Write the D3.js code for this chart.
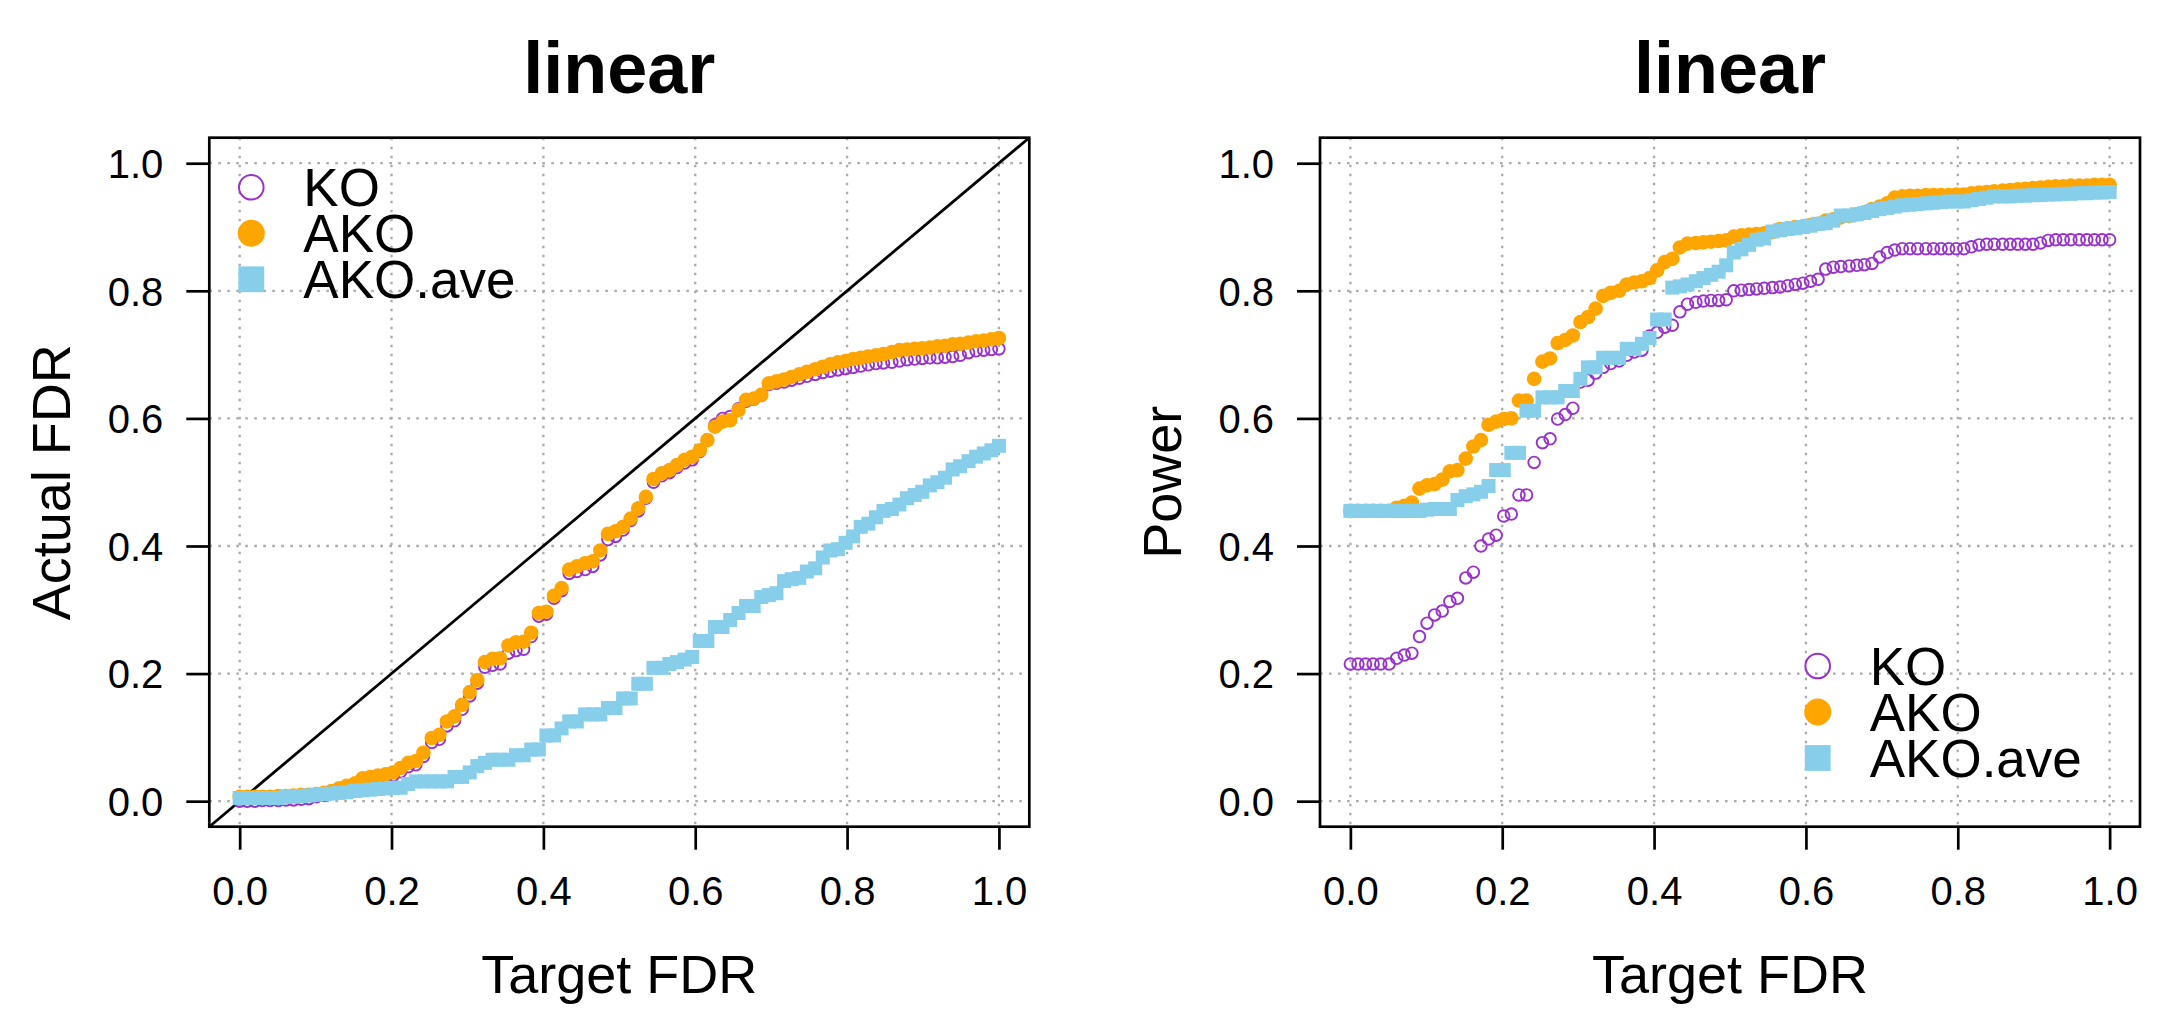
<!DOCTYPE html>
<html>
<head>
<meta charset="utf-8">
<script src="https://cdn.jsdelivr.net/npm/d3@7"></script>
<style>
  body { margin: 0; background: #fff; }
  text { font-family: "Liberation Sans", Arial, Helvetica, sans-serif; }
</style>
</head>
<body>
<div class="chart"></div>
<script>
// target FDR grid, 100 points from 0 to 1
const targetFDR = [
  0.000, 0.010, 0.020, 0.030, 0.040, 0.051, 0.061, 0.071, 0.081, 0.091,
  0.101, 0.111, 0.121, 0.131, 0.141, 0.152, 0.162, 0.172, 0.182, 0.192,
  0.202, 0.212, 0.222, 0.232, 0.242, 0.253, 0.263, 0.273, 0.283, 0.293,
  0.303, 0.313, 0.323, 0.333, 0.343, 0.354, 0.364, 0.374, 0.384, 0.394,
  0.404, 0.414, 0.424, 0.434, 0.444, 0.455, 0.465, 0.475, 0.485, 0.495,
  0.505, 0.515, 0.525, 0.535, 0.545, 0.556, 0.566, 0.576, 0.586, 0.596,
  0.606, 0.616, 0.626, 0.636, 0.646, 0.657, 0.667, 0.677, 0.687, 0.697,
  0.707, 0.717, 0.727, 0.737, 0.747, 0.758, 0.768, 0.778, 0.788, 0.798,
  0.808, 0.818, 0.828, 0.838, 0.848, 0.859, 0.869, 0.879, 0.889, 0.899,
  0.909, 0.919, 0.929, 0.939, 0.949, 0.960, 0.970, 0.980, 0.990, 1.000
]

// left panel: actual FDR
const fdrKO = [
  0.000, 0.000, 0.000, 0.001, 0.001, 0.001, 0.002, 0.002, 0.003, 0.004,
  0.007, 0.009, 0.012, 0.016, 0.020, 0.024, 0.028, 0.031, 0.033, 0.036,
  0.040, 0.046, 0.054, 0.057, 0.070, 0.092, 0.097, 0.118, 0.126, 0.144,
  0.165, 0.185, 0.210, 0.213, 0.215, 0.232, 0.236, 0.238, 0.258, 0.290,
  0.293, 0.318, 0.330, 0.357, 0.360, 0.363, 0.368, 0.386, 0.410, 0.415,
  0.425, 0.440, 0.455, 0.475, 0.500, 0.510, 0.515, 0.523, 0.530, 0.535,
  0.548, 0.566, 0.590, 0.600, 0.603, 0.615, 0.627, 0.630, 0.636, 0.653,
  0.655, 0.657, 0.660, 0.663, 0.666, 0.669, 0.672, 0.674, 0.676, 0.678,
  0.680, 0.682, 0.684, 0.686, 0.687, 0.688, 0.690, 0.692, 0.693, 0.694,
  0.695, 0.695, 0.696, 0.697, 0.699, 0.703, 0.706, 0.707, 0.708, 0.709
]
const fdrAKO = [
  0.007, 0.007, 0.007, 0.007, 0.007, 0.008, 0.008, 0.009, 0.010, 0.010,
  0.011, 0.013, 0.016, 0.020, 0.024, 0.028, 0.036, 0.038, 0.040, 0.042,
  0.045, 0.052, 0.060, 0.063, 0.076, 0.099, 0.104, 0.125, 0.133, 0.151,
  0.171, 0.190, 0.218, 0.223, 0.224, 0.244, 0.249, 0.250, 0.264, 0.295,
  0.297, 0.322, 0.334, 0.363, 0.368, 0.373, 0.376, 0.393, 0.419, 0.423,
  0.430, 0.443, 0.459, 0.477, 0.505, 0.514, 0.519, 0.527, 0.535, 0.540,
  0.550, 0.566, 0.587, 0.595, 0.597, 0.613, 0.629, 0.631, 0.637, 0.655,
  0.658, 0.661, 0.665, 0.669, 0.673, 0.677, 0.681, 0.685, 0.688, 0.690,
  0.693, 0.695, 0.697, 0.699, 0.701, 0.704, 0.707, 0.708, 0.709, 0.710,
  0.711, 0.713, 0.714, 0.716, 0.717, 0.719, 0.721, 0.722, 0.724, 0.726
]
const fdrAve = [
  0.005, 0.005, 0.005, 0.005, 0.005, 0.005, 0.007, 0.007, 0.008, 0.009,
  0.010, 0.011, 0.012, 0.013, 0.014, 0.016, 0.017, 0.018, 0.019, 0.020,
  0.021, 0.021, 0.027, 0.031, 0.031, 0.031, 0.031, 0.031, 0.038, 0.038,
  0.045, 0.055, 0.060, 0.065, 0.065, 0.065, 0.072, 0.072, 0.081, 0.081,
  0.103, 0.103, 0.114, 0.125, 0.125, 0.136, 0.136, 0.136, 0.146, 0.146,
  0.161, 0.161, 0.184, 0.184, 0.209, 0.209, 0.215, 0.218, 0.222, 0.226,
  0.251, 0.251, 0.273, 0.273, 0.284, 0.295, 0.306, 0.306, 0.320, 0.323,
  0.326, 0.345, 0.348, 0.350, 0.360, 0.365, 0.382, 0.393, 0.395, 0.405,
  0.415, 0.430, 0.435, 0.445, 0.455, 0.458, 0.465, 0.475, 0.480, 0.485,
  0.495, 0.500, 0.507, 0.520, 0.525, 0.533, 0.540, 0.545, 0.550, 0.557
]

// right panel: power
const powKO = [
  0.215, 0.215, 0.215, 0.215, 0.215, 0.215, 0.224, 0.229, 0.232, 0.258,
  0.279, 0.292, 0.298, 0.313, 0.318, 0.350, 0.359, 0.400, 0.411, 0.417,
  0.447, 0.450, 0.480, 0.480, 0.531, 0.562, 0.568, 0.599, 0.606, 0.616,
  0.657, 0.660, 0.671, 0.680, 0.686, 0.690, 0.699, 0.704, 0.707, 0.729,
  0.735, 0.743, 0.746, 0.767, 0.779, 0.782, 0.784, 0.785, 0.785, 0.786,
  0.800, 0.801, 0.802, 0.803, 0.804, 0.805, 0.806, 0.808, 0.810, 0.812,
  0.815, 0.818, 0.834, 0.837, 0.838, 0.839, 0.840, 0.841, 0.843, 0.853,
  0.860, 0.864, 0.866, 0.866, 0.866, 0.866, 0.866, 0.866, 0.866, 0.866,
  0.866, 0.869, 0.872, 0.873, 0.873, 0.873, 0.873, 0.873, 0.873, 0.873,
  0.875, 0.879, 0.880, 0.880, 0.880, 0.880, 0.880, 0.880, 0.880, 0.880
]
const powAKO = [
  0.455, 0.455, 0.455, 0.455, 0.455, 0.455, 0.460, 0.463, 0.468, 0.490,
  0.495, 0.497, 0.504, 0.517, 0.519, 0.537, 0.556, 0.566, 0.590, 0.595,
  0.599, 0.600, 0.628, 0.628, 0.662, 0.689, 0.694, 0.718, 0.723, 0.730,
  0.751, 0.759, 0.772, 0.792, 0.797, 0.800, 0.810, 0.813, 0.815, 0.820,
  0.832, 0.845, 0.850, 0.868, 0.874, 0.875, 0.876, 0.877, 0.878, 0.879,
  0.885, 0.887, 0.888, 0.889, 0.890, 0.892, 0.897, 0.898, 0.900, 0.901,
  0.903, 0.905, 0.910, 0.912, 0.915, 0.917, 0.920, 0.923, 0.928, 0.932,
  0.937, 0.946, 0.948, 0.949, 0.949, 0.950, 0.950, 0.950, 0.950, 0.951,
  0.951, 0.953, 0.954, 0.955, 0.956, 0.957, 0.958, 0.959, 0.960, 0.961,
  0.962, 0.963, 0.964, 0.964, 0.965, 0.965, 0.965, 0.966, 0.966, 0.966
]
const powAve = [
  0.455, 0.455, 0.455, 0.455, 0.455, 0.455, 0.455, 0.455, 0.455, 0.455,
  0.457, 0.458, 0.458, 0.458, 0.472, 0.478, 0.481, 0.485, 0.494, 0.519,
  0.519, 0.546, 0.546, 0.612, 0.612, 0.633, 0.633, 0.633, 0.643, 0.643,
  0.662, 0.680, 0.680, 0.695, 0.695, 0.695, 0.709, 0.709, 0.717, 0.726,
  0.755, 0.755, 0.805, 0.807, 0.810, 0.815, 0.820, 0.825, 0.830, 0.840,
  0.860, 0.865, 0.872, 0.880, 0.882, 0.893, 0.895, 0.897, 0.898, 0.900,
  0.902, 0.905, 0.906, 0.910, 0.918, 0.918, 0.920, 0.922, 0.925, 0.928,
  0.930, 0.932, 0.934, 0.935, 0.936, 0.937, 0.938, 0.939, 0.940, 0.940,
  0.940, 0.942, 0.944, 0.946, 0.948, 0.948, 0.948, 0.949, 0.949, 0.950,
  0.950, 0.951, 0.951, 0.952, 0.952, 0.953, 0.953, 0.954, 0.954, 0.955
]

const axisTicks = [0, 0.2, 0.4, 0.6, 0.8, 1.0]
const legendLabels = ['KO', 'AKO', 'AKO.ave']
const colKO = '#9932CC'
const colAKO = '#FFA500'
const colAve = '#87CEEB'

const W = 2183, H = 1034
const boxTop = 137.7, boxBottom = 826.7, boxW = 820

let svg = d3.select('.chart')
  .append('svg')
  .attr('width', W)
  .attr('height', H)
  .style('display', 'block')

svg.append('rect').attr('width', W).attr('height', H).attr('fill', '#fff')

let drawPanel = (p) => {
  let x = d3.scaleLinear().domain([-0.04, 1.04]).range([p.left, p.left + boxW])
  let y = d3.scaleLinear().domain([-0.04, 1.04]).range([boxBottom, boxTop])
  let g = svg.append('g')
  let cx = p.left + boxW / 2

  // dotted grid
  g.append('g').selectAll('line').data(axisTicks).join('line')
    .attr('x1', d => x(d)).attr('x2', d => x(d))
    .attr('y1', boxTop).attr('y2', boxBottom)
  g.append('g').selectAll('line').data(axisTicks).join('line')
    .attr('y1', d => y(d)).attr('y2', d => y(d))
    .attr('x1', p.left).attr('x2', p.left + boxW)
  g.selectAll('line')
    .attr('stroke', '#ababab')
    .attr('stroke-width', 2.3)
    .attr('stroke-dasharray', '2.6 6.4')

  // identity line
  if (p.diagonal) {
    g.append('line')
      .attr('x1', x(-0.04)).attr('y1', y(-0.04))
      .attr('x2', x(1.04)).attr('y2', y(1.04))
      .attr('stroke', '#000')
      .attr('stroke-width', 2.8)
  }

  // points: KO, then AKO, then AKO.ave on top
  let pts = targetFDR.map((t, i) => ({ t: t, ko: p.ko[i], ako: p.ako[i], ave: p.ave[i] }))
  g.append('g').selectAll('circle').data(pts).join('circle')
    .attr('cx', d => x(d.t)).attr('cy', d => y(d.ko))
    .attr('r', 5.8)
    .attr('fill', 'none')
    .attr('stroke', colKO)
    .attr('stroke-width', 1.9)
  g.append('g').selectAll('circle').data(pts).join('circle')
    .attr('cx', d => x(d.t)).attr('cy', d => y(d.ako))
    .attr('r', 7.3)
    .attr('fill', colAKO)
  g.append('g').selectAll('rect').data(pts).join('rect')
    .attr('x', d => x(d.t) - 7).attr('y', d => y(d.ave) - 7)
    .attr('width', 14).attr('height', 14)
    .attr('fill', colAve)

  // box
  g.append('rect')
    .attr('x', p.left).attr('y', boxTop)
    .attr('width', boxW).attr('height', boxBottom - boxTop)
    .attr('fill', 'none')
    .attr('stroke', '#000')
    .attr('stroke-width', 2.7)

  // axes
  let xAxis = g.append('g')
    .attr('transform', `translate(0,${boxBottom})`)
    .call(d3.axisBottom(x).tickValues(axisTicks).tickSize(23).tickPadding(27).tickFormat(d3.format('.1f')))
  let yAxis = g.append('g')
    .attr('transform', `translate(${p.left},0)`)
    .call(d3.axisLeft(y).tickValues(axisTicks).tickSize(23).tickPadding(23).tickFormat(d3.format('.1f')))
  for (let a of [xAxis, yAxis]) {
    a.select('.domain').remove()
    a.selectAll('.tick line').attr('stroke', '#000').attr('stroke-width', 2.7)
    a.selectAll('.tick text')
      .attr('fill', '#000')
      .style('font-size', '40px')
      .style('font-family', '"Liberation Sans", Arial, sans-serif')
  }
  yAxis.selectAll('.tick text').attr('dy', '0.36em')

  // titles
  g.append('text')
    .attr('x', cx).attr('y', 93.3)
    .attr('text-anchor', 'middle')
    .style('font-size', '72px')
    .style('font-weight', 'bold')
    .text(p.title)
  g.append('text')
    .attr('x', cx).attr('y', 993)
    .attr('text-anchor', 'middle')
    .style('font-size', '54px')
    .text('Target FDR')
  g.append('text')
    .attr('transform', `translate(${p.left - 139},${(boxTop + boxBottom) / 2}) rotate(-90)`)
    .attr('text-anchor', 'middle')
    .style('font-size', '54px')
    .text(p.ylab)

  // legend
  let lg = g.append('g').attr('transform', `translate(${p.legX},${p.legY})`)
  let rowH = 46
  lg.append('circle').attr('cx', 0).attr('cy', 0).attr('r', 12.3)
    .attr('fill', 'none').attr('stroke', colKO).attr('stroke-width', 2)
  lg.append('circle').attr('cx', 0).attr('cy', rowH).attr('r', 13.5)
    .attr('fill', colAKO)
  lg.append('rect').attr('x', -12.9).attr('y', 2 * rowH - 12.9)
    .attr('width', 25.8).attr('height', 25.8).attr('fill', colAve)
  lg.selectAll('text').data(legendLabels).join('text')
    .attr('x', 52).attr('y', (d, i) => i * rowH + 19)
    .style('font-size', '53px')
    .text(d => d)
}

drawPanel({
  left: 209.3, title: 'linear', ylab: 'Actual FDR', diagonal: true,
  ko: fdrKO, ako: fdrAKO, ave: fdrAve, legX: 251.3, legY: 187.3
})
drawPanel({
  left: 1320, title: 'linear', ylab: 'Power', diagonal: false,
  ko: powKO, ako: powAKO, ave: powAve, legX: 1817.7, legY: 666
})
</script>
</body>
</html>
